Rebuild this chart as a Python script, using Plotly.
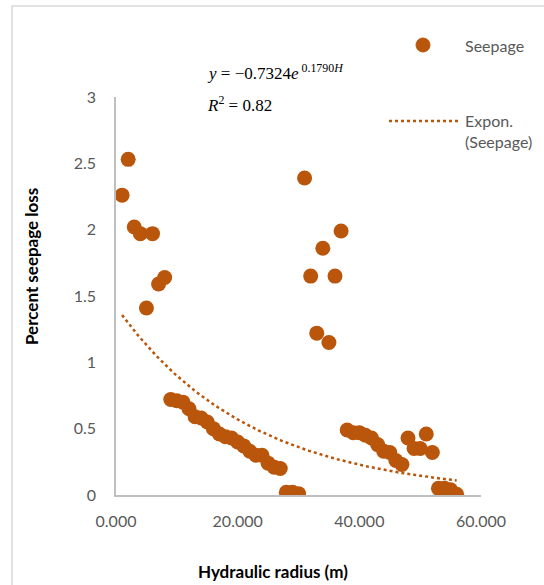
import numpy as np
import plotly.graph_objects as go

# Data
hydraulic_radius = list(range(1, 57))
seepage = [2.26, 2.53, 2.02, 1.97, 1.41, 1.97, 1.59, 1.64,
           0.72, 0.71, 0.70, 0.65, 0.59, 0.58, 0.55, 0.50, 0.46, 0.44, 0.43,
           0.40, 0.37, 0.33, 0.30, 0.30, 0.24, 0.21, 0.20,
           0.02, 0.02, 0.01,
           2.39, 1.65, 1.22, 1.86, 1.15, 1.65, 1.99,
           0.49, 0.47, 0.47, 0.45, 0.43, 0.38, 0.33, 0.32, 0.26, 0.23,
           0.43, 0.35, 0.35, 0.46, 0.32,
           0.05, 0.05, 0.04, 0.005]
x_ticks = [0, 20, 40, 60]
y_ticks = [0, 0.5, 1, 1.5, 2, 2.5, 3]

# Exponential trendline parameters (as drawn)
trend_a = 1.42
trend_b = -0.0457

COLOR = "#B9560B"
FONT = "Lato"

tx = np.linspace(min(hydraulic_radius), max(hydraulic_radius), 200)
ty = trend_a * np.exp(trend_b * tx)

fig = go.Figure()
fig.add_trace(go.Scatter(x=tx, y=ty, mode="lines",
                         line=dict(color=COLOR, width=2.5, dash="dot"),
                         showlegend=False, hoverinfo="skip"))
fig.add_trace(go.Scatter(x=hydraulic_radius, y=seepage, mode="markers",
                         marker=dict(color=COLOR, size=15),
                         showlegend=False, name="Seepage"))

fig.update_layout(
    width=544, height=585,
    margin=dict(l=116, r=63, t=97, b=90),
    paper_bgcolor="white", plot_bgcolor="white",
    font=dict(family=FONT, size=16, color="#595959"),
    xaxis=dict(range=[0, 60], tickvals=x_ticks, tickformat=".3f",
               showgrid=False, zeroline=False, showline=True,
               linecolor="#BFBFBF", linewidth=1.5, ticks="",
               ticklabelstandoff=11),
    yaxis=dict(range=[0, 3], tickvals=y_ticks,
               ticktext=[("%g" % v) for v in y_ticks],
               showgrid=False, zeroline=False, showline=True,
               linecolor="#BFBFBF", linewidth=1.5, ticks="",
               ticklabelstandoff=15),
)

# Chart border
fig.add_shape(type="rect", xref="paper", yref="paper",
              x0=(12 - 116) / 365, x1=2.0, y0=-0.5, y1=(495 - 6) / 398,
              line=dict(color="#D9D9D9", width=1.5), fillcolor="rgba(0,0,0,0)",
              layer="below")

# Axis titles
fig.add_annotation(text="<b>Hydraulic radius (m)</b>", xref="paper", yref="paper",
                   x=(273 - 116) / 365, y=(495 - 571) / 398, showarrow=False,
                   font=dict(family=FONT, size=17, color="black"),
                   xanchor="center", yanchor="middle")
fig.add_annotation(text="<b>Percent seepage loss</b>", xref="paper", yref="paper",
                   x=(31 - 116) / 365, y=(495 - 267) / 398, showarrow=False,
                   textangle=-90,
                   font=dict(family=FONT, size=17, color="black"),
                   xanchor="center", yanchor="middle")

# Equation text
fig.add_annotation(text="<i>y</i> = −0.7324<i>e</i><sup> 0.1790<i>H</i></sup>",
                   xref="paper", yref="paper",
                   x=(205 - 116) / 365, y=(495 - 72) / 398, showarrow=False,
                   font=dict(family="Liberation Serif", size=17, color="black"),
                   xanchor="left", yanchor="middle")
fig.add_annotation(text="<i>R</i><sup>2</sup> = 0.82",
                   xref="paper", yref="paper",
                   x=(205 - 116) / 365, y=(495 - 104) / 398, showarrow=False,
                   font=dict(family="Liberation Serif", size=17, color="black"),
                   xanchor="left", yanchor="middle")

# Legend (manual)
fig.add_shape(type="circle", xref="paper", yref="paper",
              x0=(423 - 7 - 116) / 365, x1=(423 + 7 - 116) / 365,
              y0=(495 - 45 - 7) / 398, y1=(495 - 45 + 7) / 398,
              fillcolor=COLOR, line=dict(color=COLOR, width=1))
fig.add_annotation(text="Seepage", xref="paper", yref="paper",
                   x=(463 - 116) / 365, y=(495 - 45) / 398, showarrow=False,
                   font=dict(family=FONT, size=16, color="#595959"),
                   xanchor="left", yanchor="middle")
fig.add_shape(type="line", xref="paper", yref="paper",
              x0=(389 - 116) / 365, x1=(458 - 116) / 365,
              y0=(495 - 121) / 398, y1=(495 - 121) / 398,
              line=dict(color=COLOR, width=2.5, dash="dot"))
fig.add_annotation(text="Expon.<br>(Seepage)", xref="paper", yref="paper",
                   x=(463 - 116) / 365, y=(495 - 121 + 12) / 398, showarrow=False,
                   font=dict(family=FONT, size=16, color="#595959"),
                   xanchor="left", yanchor="top", align="left")

fig.write_html("out.html")
